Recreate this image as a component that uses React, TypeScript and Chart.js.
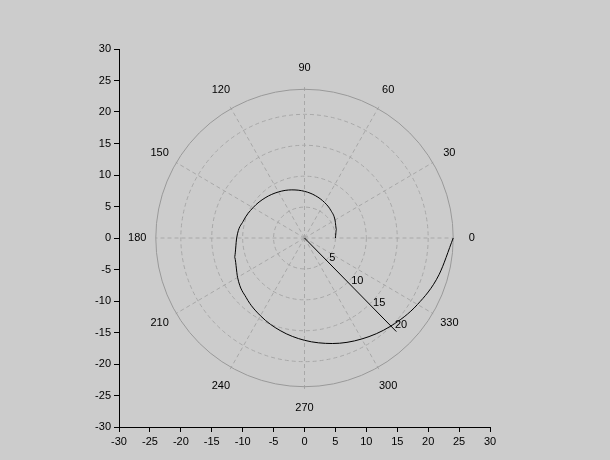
import { useEffect, useRef } from 'react';
import { Chart, registerables } from 'chart.js';

Chart.register(...registerables);

// spiral: angle (deg) and radius
const angles = [0, 15, 30, 45, 60, 75, 90, 105, 120, 135, 150, 165, 180, 195, 210, 225, 240, 255, 270, 285, 300, 315, 330, 345, 360];
const radii = [5.0, 5.34, 5.7, 6.09, 6.5, 6.94, 7.41, 7.91, 8.44, 9.01, 9.62, 10.27, 10.97, 11.71, 12.5, 13.35, 14.25, 15.21, 16.24, 17.34, 18.51, 19.76, 21.1, 22.52, 24.05];
const rings = [5, 10, 15, 20];
const outerRadius = 24.05;
const spokes = [0, 30, 60, 90, 120, 150, 180, 210, 240, 270, 300, 330];
const radialLabels = [5, 10, 15, 20];
const radialAxisAngle = -45;
const radialAxisLength = 21;

const FONT = '"Liberation Sans", Arial, sans-serif';

const polarGrid = {
  id: 'polarGrid',
  beforeDatasetsDraw(chart: any) {
    const { ctx, scales } = chart;
    const xs = scales.x, ys = scales.y;
    const cx = xs.getPixelForValue(0), cy = ys.getPixelForValue(0);
    const px = (r: number) => xs.getPixelForValue(r) - cx;
    ctx.save();
    ctx.strokeStyle = '#a8a8a8';
    ctx.lineWidth = 1;
    ctx.setLineDash([4, 3]);
    rings.forEach((r) => {
      ctx.beginPath();
      ctx.arc(cx, cy, px(r), 0, Math.PI * 2);
      ctx.stroke();
    });
    spokes.forEach((a) => {
      const t = (a * Math.PI) / 180;
      ctx.beginPath();
      ctx.moveTo(cx, cy);
      ctx.lineTo(xs.getPixelForValue(outerRadius * Math.cos(t)), ys.getPixelForValue(outerRadius * Math.sin(t)));
      ctx.stroke();
    });
    ctx.setLineDash([]);
    ctx.strokeStyle = '#999999';
    ctx.beginPath();
    ctx.arc(cx, cy, px(outerRadius), 0, Math.PI * 2);
    ctx.stroke();
    // angle labels
    ctx.fillStyle = '#000';
    ctx.font = `11px ${FONT}`;
    ctx.textAlign = 'center';
    ctx.textBaseline = 'middle';
    spokes.forEach((a) => {
      const t = (a * Math.PI) / 180;
      const rr = outerRadius + 3;
      ctx.fillText(String(a), xs.getPixelForValue(rr * Math.cos(t)), ys.getPixelForValue(rr * Math.sin(t)));
    });
    // radial axis
    const ta = (radialAxisAngle * Math.PI) / 180;
    ctx.strokeStyle = '#000';
    ctx.beginPath();
    ctx.moveTo(cx, cy);
    ctx.lineTo(xs.getPixelForValue(radialAxisLength * Math.cos(ta)), ys.getPixelForValue(radialAxisLength * Math.sin(ta)));
    ctx.stroke();
    ctx.textAlign = 'left';
    radialLabels.forEach((r) => {
      ctx.fillText(String(r), xs.getPixelForValue(r * Math.cos(ta)) + 3, ys.getPixelForValue(r * Math.sin(ta)) - 2);
    });
    ctx.restore();
  },
};

export default function App() {
  const ref = useRef<HTMLCanvasElement>(null);
  useEffect(() => {
    document.body.style.margin = '0';
    document.body.style.background = '#cccccc';
    const points = angles.map((a, i) => {
      const t = (a * Math.PI) / 180;
      return { x: radii[i] * Math.cos(t), y: radii[i] * Math.sin(t) };
    });
    const tickOpts = {
      stepSize: 5,
      color: '#000',
      font: { size: 11, family: FONT },
      autoSkip: false,
      maxRotation: 0,
    };
    const grid = { drawOnChartArea: false, drawTicks: true, tickLength: 5, color: '#000' };
    const chart = new Chart(ref.current!, {
      type: 'scatter',
      data: {
        datasets: [
          {
            data: points,
            showLine: true,
            borderColor: '#000',
            borderWidth: 1,
            pointRadius: 0,
            tension: 0.4,
            cubicInterpolationMode: 'monotone',
          } as any,
        ],
      },
      options: {
        animation: false,
        responsive: false,
        layout: { padding: { top: 49, right: 120, left: 0, bottom: 0 } },
        plugins: { legend: { display: false }, tooltip: { enabled: false } },
        scales: {
          x: {
            type: 'linear', min: -30, max: 30, ticks: tickOpts, grid, border: { color: '#000' },
            afterFit: (s: any) => { s.height = 33; },
          },
          y: {
            type: 'linear', min: -30, max: 30, ticks: tickOpts, grid, border: { color: '#000' },
            afterFit: (s: any) => { s.width = 119; },
          },
        },
      },
      plugins: [polarGrid],
    });
    return () => chart.destroy();
  }, []);
  return <canvas ref={ref} width={610} height={460} style={{ display: 'block', background: '#cccccc' }} />;
}
